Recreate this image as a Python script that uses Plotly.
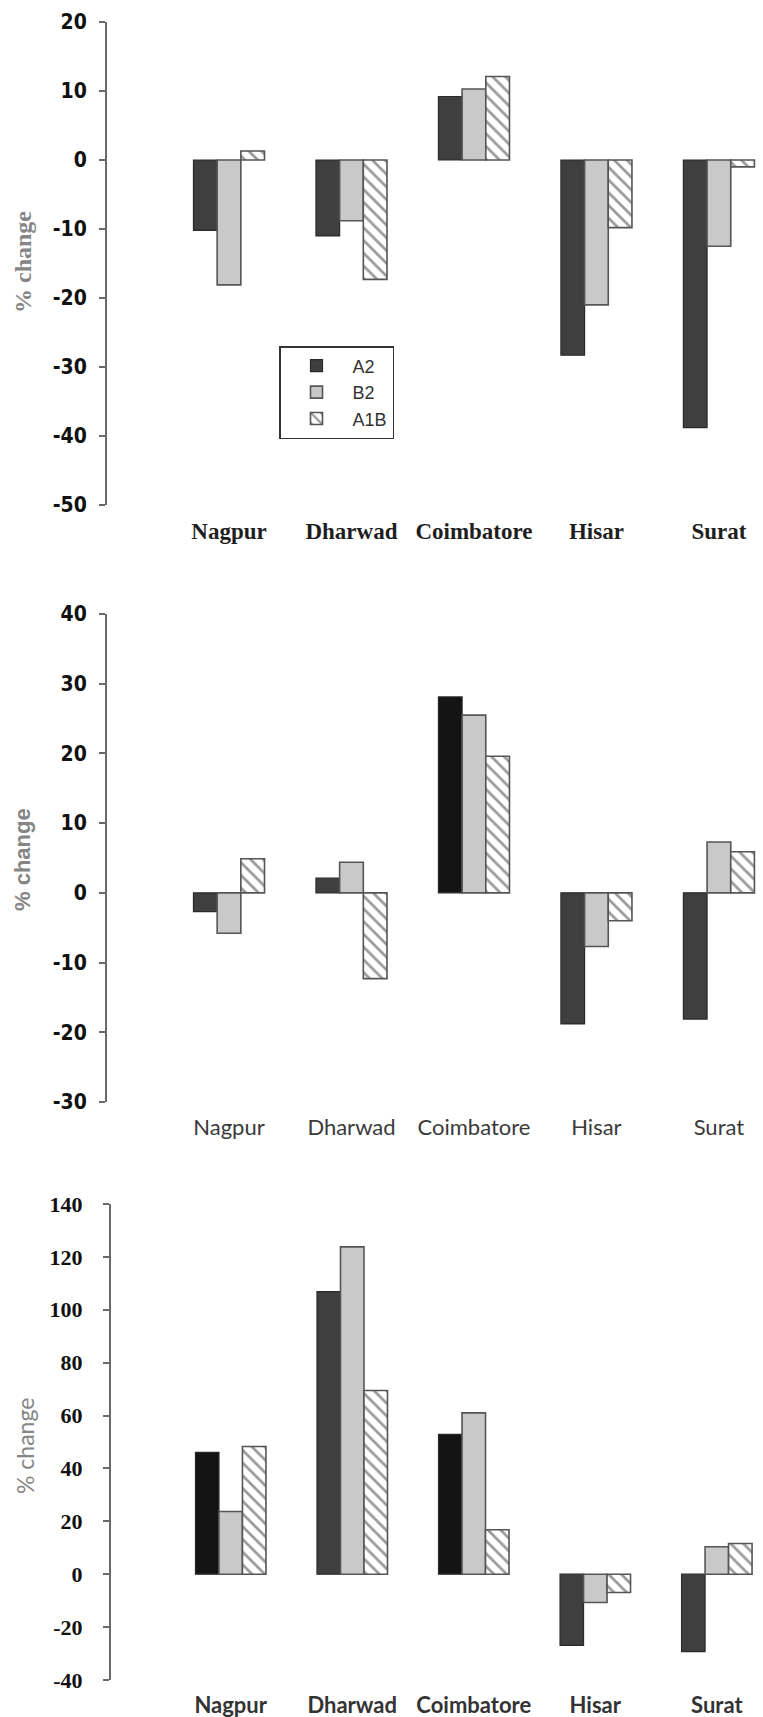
import plotly.graph_objects as go

cities = ["Nagpur", "Dharwad", "Coimbatore", "Hisar", "Surat"]
scenarios = ["A2", "B2", "A1B"]

p1_A2 = [-10.2, -11.0, 9.2, -28.3, -38.8]
p1_B2 = [-18.1, -8.8, 10.3, -21.0, -12.5]
p1_A1B = [1.3, -17.3, 12.1, -9.8, -1.0]

p2_A2 = [-2.7, 2.1, 28.1, -18.8, -18.1]
p2_B2 = [-5.8, 4.4, 25.5, -7.7, 7.3]
p2_A1B = [4.9, -12.3, 19.6, -4.0, 5.9]

p3_A2 = [46.1, 106.9, 52.9, -26.9, -29.3]
p3_B2 = [23.7, 123.8, 61.0, -10.7, 10.4]
p3_A1B = [48.3, 69.5, 16.8, -6.9, 11.6]

y1_ticks = [20, 10, 0, -10, -20, -30, -40, -50]
y2_ticks = [40, 30, 20, 10, 0, -10, -20, -30]
y3_ticks = [140, 120, 100, 80, 60, 40, 20, 0, -20, -40]

W, H = 763, 1717

def py(p):  # pixel y (from top) -> paper
    return 1 - p / H

def px(p):
    return p / W

DARK = "#3f3f3f"
BLACK = "#141414"
a2_colors = [
    [DARK, DARK, DARK, DARK, DARK],
    [DARK, DARK, BLACK, DARK, DARK],
    [BLACK, DARK, BLACK, DARK, DARK],
]

panels = [
    (p1_A2, p1_B2, p1_A1B),
    (p2_A2, p2_B2, p2_A1B),
    (p3_A2, p3_B2, p3_A1B),
]

fig = go.Figure()
for i, (a2, b2, a1b) in enumerate(panels):
    xa = "x" if i == 0 else f"x{i+1}"
    ya = "y" if i == 0 else f"y{i+1}"
    show = i == 0
    fig.add_trace(go.Bar(x=cities, y=a2, name=scenarios[0], xaxis=xa, yaxis=ya,
                         marker=dict(color=a2_colors[i], line=dict(color="#2a2a2a", width=1.2)),
                         showlegend=show, legendgroup="A2"))
    fig.add_trace(go.Bar(x=cities, y=b2, name=scenarios[1], xaxis=xa, yaxis=ya,
                         marker=dict(color="#c9c9c9", line=dict(color="#555555", width=1.6)),
                         showlegend=show, legendgroup="B2"))
    fig.add_trace(go.Bar(x=cities, y=a1b, name=scenarios[2], xaxis=xa, yaxis=ya,
                         marker=dict(color="white", line=dict(color="#555555", width=1.6),
                                     pattern=dict(shape="\\", fgcolor="#333333", bgcolor="white",
                                                  size=9, solidity=0.3)),
                         showlegend=show, legendgroup="A1B"))

sans_narrow = "Liberation Sans Narrow, Arial Narrow, DejaVu Sans Condensed, Liberation Sans"
serif = "Liberation Serif, Times New Roman, serif"
calib = "Lato, Open Sans, Liberation Sans"

yaxis_common = dict(showgrid=False, zeroline=False, showline=True, linecolor="#6a6a6a",
                    linewidth=2, ticks="outside", ticklen=6, tickcolor="#6a6a6a", tickwidth=2,
                    automargin=False)
xaxis_common = dict(showgrid=False, zeroline=False, showline=False, ticks="",
                    automargin=False, ticklabelstandoff=10)

fig.update_layout(
    width=W, height=H,
    margin=dict(l=0, r=0, t=0, b=0),
    plot_bgcolor="white", paper_bgcolor="white",
    barmode="group", bargap=0.42, bargroupgap=0.0,
    showlegend=True,
    legend=dict(x=px(279), y=py(346), xanchor="left", yanchor="top",
                bgcolor="white", bordercolor="#333333", borderwidth=1.5,
                font=dict(family="Liberation Sans, Arial", size=18, color="#333333"),
                itemwidth=62, traceorder="normal"),
    xaxis=dict(domain=[px(107), 1], range=[-0.996, 4.36], anchor="y",
               tickfont=dict(family=serif, size=23, color="#1e1e1e", weight="bold"), **xaxis_common),
    yaxis=dict(domain=[py(505), py(22)], range=[-50, 20], anchor="x",
               tickvals=y1_ticks, ticktext=[str(v) for v in y1_ticks], ticklabelstandoff=8,
               tickfont=dict(family=sans_narrow, size=21, color="#111111", weight="bold"), **yaxis_common),
    xaxis2=dict(domain=[px(107), 1], range=[-0.996, 4.36], anchor="y2",
                tickfont=dict(family=calib, size=22, color="#3a3a3a"), **xaxis_common),
    yaxis2=dict(domain=[py(1102), py(614)], range=[-30, 40], anchor="x2",
                tickvals=y2_ticks, ticktext=[str(v) for v in y2_ticks], ticklabelstandoff=8,
                tickfont=dict(family=sans_narrow, size=21, color="#111111", weight="bold"), **yaxis_common),
    xaxis3=dict(domain=[px(111), 1], range=[-0.985, 4.38], anchor="y3",
                tickfont=dict(family=calib, size=22, color="#333333", weight="bold"), **xaxis_common),
    yaxis3=dict(domain=[py(1680), py(1204)], range=[-40, 140], anchor="x3",
                tickvals=y3_ticks, ticktext=[str(v) for v in y3_ticks], ticklabelstandoff=16,
                tickfont=dict(family=serif, size=22, color="#111111", weight="bold"), **yaxis_common),
)

titles = [
    ("% change", 23, 262, serif, "bold", 24),
    ("% change", 23, 860, "Liberation Sans, Arial", "bold", 22),
    ("% change", 25, 1446, calib, "normal", 23),
]
for txt, x, y, fam, w, sz in titles:
    fig.add_annotation(text=txt, x=px(x), y=py(y), xref="paper", yref="paper",
                       showarrow=False, textangle=-90, xanchor="center", yanchor="middle",
                       font=dict(family=fam, size=sz, color="#858585", weight=w))

fig.write_html("out.html")
